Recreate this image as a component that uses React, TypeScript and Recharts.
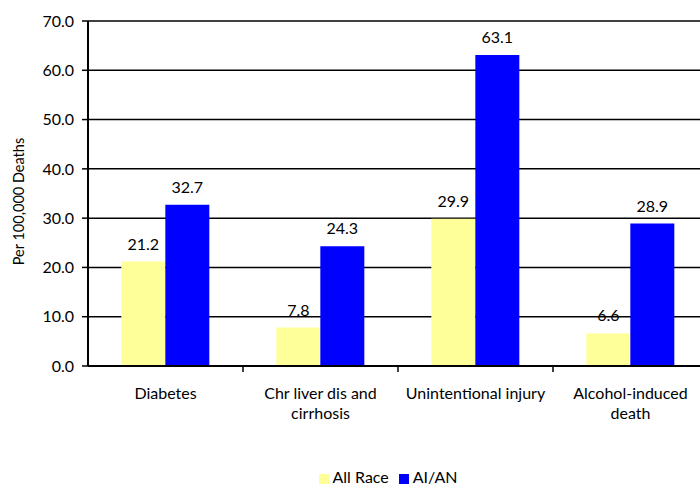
import React from "react";
import { BarChart, Bar, XAxis, YAxis, CartesianGrid, Legend, LabelList, Label } from "recharts";

const categories = ["Diabetes", "Chr liver dis and\ncirrhosis", "Unintentional injury", "Alcohol-induced\ndeath"];
const allRace = [21.2, 7.8, 29.9, 6.6];
const aian = [32.7, 24.3, 63.1, 28.9];
const yTicks = [0, 10, 20, 30, 40, 50, 60, 70];

const data = categories.map((c, i) => ({ name: c, allRace: allRace[i], aian: aian[i] }));

const FONT = "Lato, 'Open Sans', sans-serif";

const CatTick = (props: any) => {
  const { x, y, payload } = props;
  const lines = String(payload.value).split("\n");
  const off = payload.offset ?? 77.5;
  return (
    <g>
      <line x1={x + off} x2={x + off} y1={y - 8} y2={y - 2} stroke="#000" strokeWidth={1.5} />
      {lines.map((l, i) => (
        <text key={i} x={x} y={y + 25 + i * 20} textAnchor="middle" fontSize={16} fontFamily={FONT} fill="#000">
          {l}
        </text>
      ))}
    </g>
  );
};

const fmt = (v: number) => v.toFixed(1);
const order: Record<string, number> = { allRace: 0, aian: 1 };

export default function App() {
  return (
    <div style={{ position: "absolute", left: 0, top: 0, width: 700, height: 485, overflow: "hidden", background: "#fff" }}>
      <BarChart
        width={712}
        height={485}
        data={data}
        margin={{ top: 21, right: 4, bottom: 59, left: 0 }}
        barCategoryGap="21.5%"
        barGap={0}
      >
        <CartesianGrid vertical={false} stroke="#000" strokeWidth={1.5} />
        <XAxis
          dataKey="name"
          interval={0}
          height={60}
          axisLine={{ stroke: "#000", strokeWidth: 2 }}
          tickLine={false}
          tick={<CatTick />}
        />
        <YAxis
          width={88}
          domain={[0, 70]}
          ticks={yTicks}
          tickFormatter={fmt}
          axisLine={{ stroke: "#000", strokeWidth: 2 }}
          tickLine={{ stroke: "#000", strokeWidth: 1.5 }}
          tickSize={6}
          tickMargin={8}
          tick={{ fontSize: 16, fontFamily: FONT, fill: "#000" }}
        >
          <Label
            value="Per 100,000 Deaths"
            angle={-90}
            position="insideLeft"
            offset={19}
            dy={8}
            style={{ textAnchor: "middle", fontSize: 14.5, fontFamily: FONT, fill: "#000" }}
          />
        </YAxis>
        <Legend
          verticalAlign="middle"
          align="center"
          layout="horizontal"
          iconType="square"
          iconSize={10}
          itemSorter={(item: any) => order[item.dataKey] ?? 0}
          wrapperStyle={{ top: 467, left: 80, width: 626, fontSize: 16, fontFamily: FONT, color: "#000" }}
          formatter={(v: string) => <span style={{ color: "#000" }}>{v}</span>}
        />
        <Bar dataKey="allRace" name="All Race" fill="#FFFF99" isAnimationActive={false}>
          <LabelList dataKey="allRace" position="top" offset={12} formatter={(v: any) => Number(v).toFixed(1)} style={{ fontSize: 16, fontFamily: FONT, fill: "#000" }} />
        </Bar>
        <Bar dataKey="aian" name="AI/AN" fill="#0000FF" isAnimationActive={false}>
          <LabelList dataKey="aian" position="top" offset={12} formatter={(v: any) => Number(v).toFixed(1)} style={{ fontSize: 16, fontFamily: FONT, fill: "#000" }} />
        </Bar>
      </BarChart>
    </div>
  );
}
